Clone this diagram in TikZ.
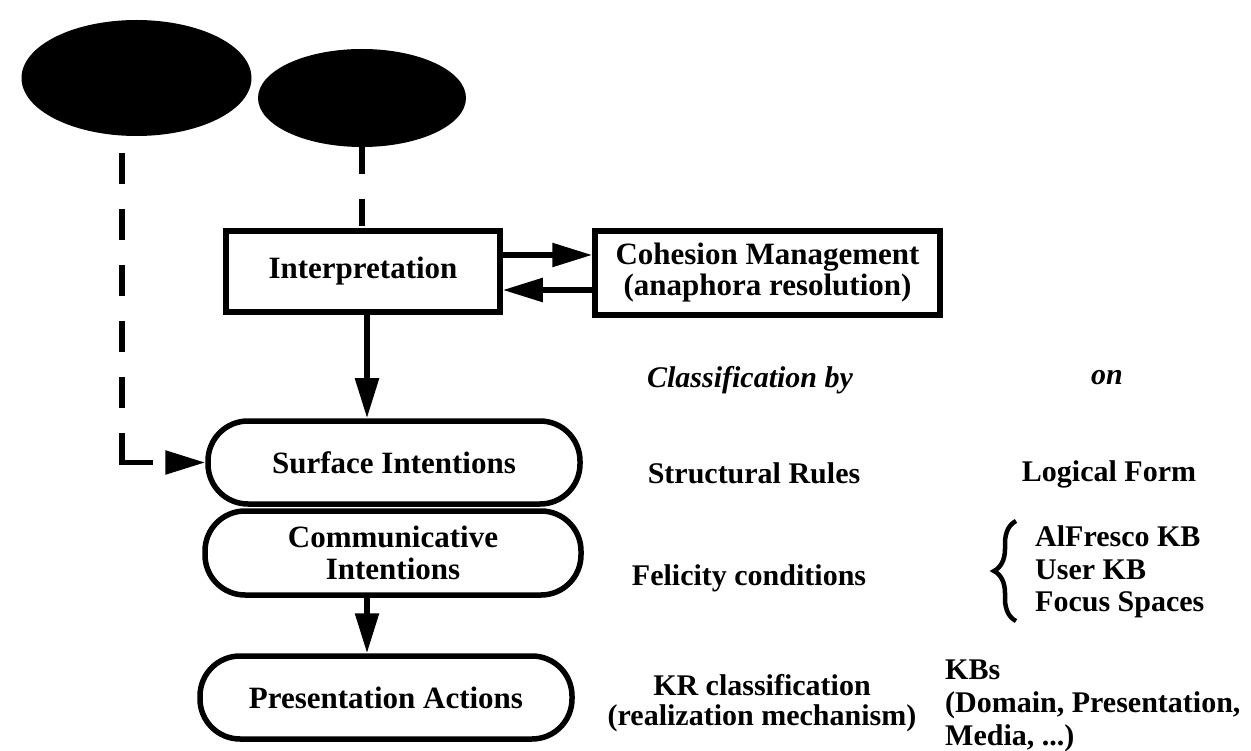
\documentclass[tikz,border=0pt]{standalone}
\usepackage{fontspec}
\setmainfont{Liberation Serif}
\usetikzlibrary{shapes.geometric,arrows.meta,decorations.pathreplacing}
\tikzset{
  lw/.style={line width=5.5pt},
  blob/.style={ellipse, fill=black, draw=none, inner sep=0pt},
  sqbox/.style={draw, lw, rectangle, inner sep=0pt, align=center, font=\fontsize{31}{31}\selectfont\bfseries},
  rbox/.style={draw, lw, rectangle, rounded corners=40pt, inner sep=0pt, align=center, font=\fontsize{31}{32}\selectfont\bfseries},
  side/.style={inner sep=0pt, font=\fontsize{30}{31}\selectfont\bfseries},
  arr/.style={lw, -{Triangle[length=40pt,width=23pt]}},
  dasharr/.style={lw, dash pattern=on 31pt off 25pt on 31pt off 25pt on 31pt off 25pt on 31pt off 25pt on 31pt off 25pt on 60pt off 20pt, -{Triangle[length=40pt,width=23pt]}},
  dashln/.style={lw, dash pattern=on 27pt off 25pt},
}
\begin{document}
\begin{tikzpicture}[x=1pt,y=-1pt]
\useasboundingbox (0,0) rectangle (1251,751);
% blobs
\node[blob, minimum width=230pt, minimum height=116pt] (e1) at (136.5,78) {};
\node[blob, minimum width=208pt, minimum height=98pt] (e2) at (362,98) {};
% boxes
\node[sqbox, minimum width=274pt, minimum height=81pt] (interp) at (363,271.5) {Interpretation};
\node[sqbox, minimum width=345pt, minimum height=84pt] (coh) at (767.5,273) {Cohesion Management\\(anaphora resolution)};
\node[rbox, minimum width=372pt, minimum height=83pt] (surf) at (394,462.5) {Surface Intentions};
\node[rbox, minimum width=376pt, minimum height=84pt] (comm) at (393,553) {Communicative\\Intentions};
\node[rbox, minimum width=372pt, minimum height=83pt] (pres) at (386,697.5) {Presentation Actions};
% side texts
\node[side, font=\fontsize{30}{31}\selectfont\bfseries\itshape] (clby) at (750,380) {Classification by};
\node[side, font=\fontsize{30}{31}\selectfont\bfseries\itshape] (on) at (1107,378) {on};
\node[side] (struct) at (754,473) {Structural Rules};
\node[side] (logf) at (1109,474) {Logical Form};
\node[side] (felic) at (749,578) {Felicity conditions};
\node[side, align=left, anchor=west, font=\fontsize{30}{32.5}\selectfont\bfseries] (kbs3) at (1035,572) {AlFresco KB\\User KB\\Focus Spaces};
\node[side, align=center, font=\fontsize{30}{30}\selectfont\bfseries] (krc) at (762,703) {KR classification\\(realization mechanism)};
\node[side, align=left, anchor=west, font=\fontsize{30}{33}\selectfont\bfseries] (kbsall) at (945,706) {KBs\\(Domain, Presentation,\\Media, ...)};
% brace
\coordinate (bb) at (1016,621);
\coordinate (bt) at (1016,521);
\draw[line width=4.5pt, decorate, decoration={brace, amplitude=22pt}] (bb) -- (bt);
% connectors
\draw[dashln] (e2.south) -- (e2.south |- interp.north);
\coordinate (ls) at (122,153);
\draw[dasharr] (ls) |- (surf.west);
\draw[arr] ([yshift=16.5pt]interp.east) -- ([yshift=16.5pt]interp.east -| coh.west);
\draw[arr] ([yshift=-18.5pt]interp.east -| coh.west) -- ([yshift=-18.5pt]interp.east);
\draw[arr] ([xshift=4pt]interp.south) -- ([xshift=4pt]interp.south |- surf.north);
\draw[arr] ([xshift=-26pt]comm.south) -- ([xshift=-26pt]comm.south |- pres.north);
\end{tikzpicture}
\end{document}
